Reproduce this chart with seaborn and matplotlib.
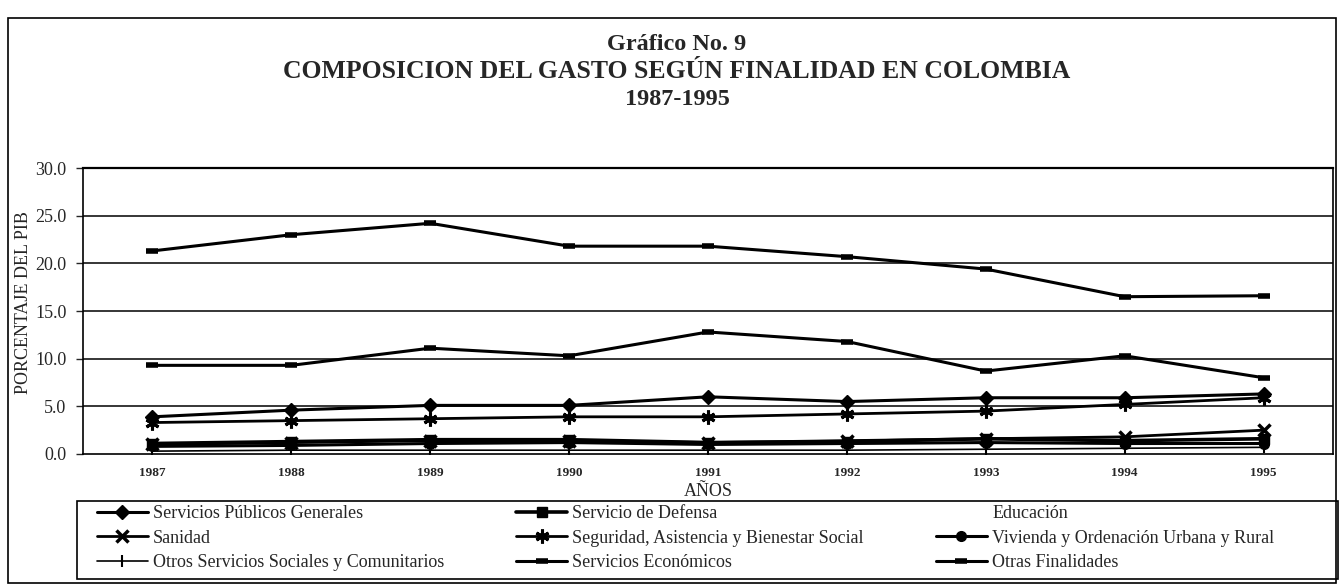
import matplotlib
matplotlib.use("Agg")
import matplotlib.pyplot as plt
import seaborn as sns
from matplotlib.lines import Line2D
from matplotlib.patches import Rectangle

# data (porcentaje del PIB)
years = [1987, 1988, 1989, 1990, 1991, 1992, 1993, 1994, 1995]
year_labels = ["1987", "1988", "1989", "1990", "1991", "1992", "1993", "1994", "1995"]
servicios_publicos = [3.9, 4.6, 5.1, 5.1, 6.0, 5.5, 5.9, 5.9, 6.3]
defensa = [1.1, 1.3, 1.5, 1.5, 1.2, 1.3, 1.6, 1.4, 1.6]
sanidad = [1.0, 1.2, 1.4, 1.4, 1.2, 1.4, 1.6, 1.8, 2.5]
seguridad = [3.3, 3.5, 3.7, 3.9, 3.9, 4.2, 4.5, 5.2, 5.9]
vivienda = [0.8, 0.9, 1.1, 1.2, 1.0, 1.1, 1.2, 1.1, 1.1]
otros_sociales = [0.3, 0.4, 0.4, 0.4, 0.4, 0.4, 0.5, 0.6, 0.7]
economicos = [9.3, 9.3, 11.1, 10.3, 12.8, 11.8, 8.7, 10.3, 8.0]
otras = [21.3, 23.0, 24.2, 21.8, 21.8, 20.7, 19.4, 16.5, 16.6]
y_ticks = [0, 5, 10, 15, 20, 25, 30]

sns.set_style("white")
plt.rcParams['font.family'] = ['Liberation Serif', 'DejaVu Serif']

W, H = 1342, 585
fig = plt.figure(figsize=(W / 100, H / 100), dpi=100)
ax = fig.add_axes([83 / W, 1 - 454 / H, (1333 - 83) / W, (454 - 168) / H])

#series: (values, label, marker, size, line width, marker edge width)
series = [
    (otras, 'Otras Finalidades', '_', 9, 2.2, 4),
    (economicos, 'Servicios Económicos', '_', 9, 2.2, 4),
    (servicios_publicos, 'Servicios Públicos Generales', 'D', 7, 2.2, 1),
    (seguridad, 'Seguridad, Asistencia y Bienestar Social', (6, 2, 0), 10, 2.0, 2.2),
    (sanidad, 'Sanidad', 'x', 9, 2.0, 2.5),
    (defensa, 'Servicio de Defensa', 's', 7, 2.6, 1),
    (vivienda, 'Vivienda y Ordenación Urbana y Rural', 'o', 7, 2.2, 1),
    (otros_sociales, 'Otros Servicios Sociales y Comunitarios', '|', 8, 1.2, 1.5),
]
for vals, name, mk, ms, lw, mew in series:
    sns.lineplot(x=years, y=vals, ax=ax, color='black', marker=mk, markersize=ms,
                 linewidth=lw, markeredgewidth=mew, markeredgecolor='black', label=name)
ax.get_legend().remove()

ax.set_xlim(1986.5, 1995.5)
ax.set_ylim(0, 30)
ax.set_yticks(y_ticks)
ax.set_yticklabels([f"{v:.1f}" for v in y_ticks], fontsize=13)
ax.set_xticks(years)
ax.set_xticklabels(year_labels, fontsize=9.5, fontweight='bold')
ax.tick_params(axis='y', direction='out', length=5, width=1, pad=7, left=True)
ax.tick_params(axis='x', length=0, pad=9)

# horizontal grid lines
for v in y_ticks[1:-1]:
    ax.axhline(v, color='black', linewidth=1.1, zorder=1)
for s in ['left', 'right', 'bottom']:
    ax.spines[s].set_color('black')
    ax.spines[s].set_linewidth(1.2)
ax.spines['top'].set_color('black')
ax.spines['top'].set_linewidth(1.6)
ax.spines['top'].set_linestyle((0, (2, 1)))

ax.set_ylabel('PORCENTAJE DEL PIB', fontsize=13)
ax.yaxis.set_label_coords((32 - 83) / 1250, 0.53)
ax.set_xlabel('AÑOS', fontsize=13)
ax.xaxis.set_label_coords(0.5, -(483 - 454) / 286)

# title
fig.text(677 / W, 1 - 45 / H, 'Gráfico No. 9', ha='center', va='center', fontsize=17.5, fontweight='bold')
fig.text(677 / W, 1 - 72 / H, 'COMPOSICION DEL GASTO SEGÚN FINALIDAD EN COLOMBIA',
         ha='center', va='center', fontsize=18.5, fontweight='bold')
fig.text(677 / W, 1 - 99 / H, '1987-1995', ha='center', va='center', fontsize=17.5, fontweight='bold')

# legend in 3 columns, Educación has no visible line
handles, labels = ax.get_legend_handles_labels()
lookup = dict(zip(labels, handles))
edu = Line2D([], [], color='none', linestyle='-', marker=None)
order = ['Servicios Públicos Generales', 'Sanidad', 'Otros Servicios Sociales y Comunitarios',
         'Servicio de Defensa', 'Seguridad, Asistencia y Bienestar Social', 'Servicios Económicos',
         'Educación', 'Vivienda y Ordenación Urbana y Rural', 'Otras Finalidades']
leg_handles = [edu if o == 'Educación' else lookup[o] for o in order]
fig.legend(leg_handles, order, ncol=3, loc='upper left',
           bbox_to_anchor=(97 / W, 1 - 505 / H),
           fontsize=13, frameon=False,
           handlelength=2.8, handletextpad=0.3, labelspacing=0.42, columnspacing=4.0,
           borderpad=0, borderaxespad=0)

# legend box and outer frame
fig.add_artist(Rectangle((77 / W, 1 - 579 / H), (1338 - 77) / W, (579 - 501) / H, transform=fig.transFigure,
                         fill=False, edgecolor='black', linewidth=1.2))
fig.add_artist(Rectangle((8 / W, 1 - 583 / H), (1336 - 8) / W, (583 - 18) / H, transform=fig.transFigure,
                         fill=False, edgecolor='black', linewidth=1.2))

fig.savefig('out.png', dpi=100)
